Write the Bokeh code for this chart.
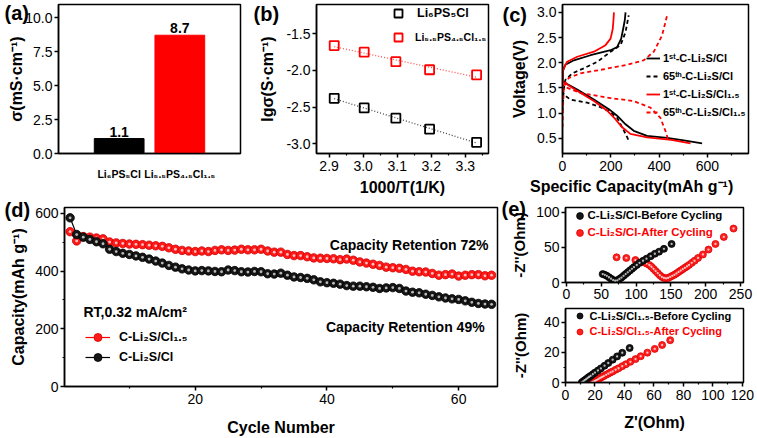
import numpy as np
from bokeh.plotting import figure
from bokeh.layouts import row, column
from bokeh.models import (Range1d, FixedTicker, Legend, LegendItem, PrintfTickFormatter,
                          LinearAxis)
from bokeh.core.properties import value
from bokeh.embed import file_html
from bokeh.resources import INLINE

FONT = "Liberation Sans"
RED = "#ff0000"
BLACK = "#000000"

# ---------------- data ----------------
# (a) conductivity bars
cond_names = ["Li₆PS₅Cl", "Li₅.₅PS₄.₅Cl₁.₅"]
cond_values = [1.1, 8.7]
cond_colors = [BLACK, RED]
a_yticks = [0, 2.5, 5, 7.5, 10]

# (b) Arrhenius
inv_temp = [2.915, 3.003, 3.096, 3.195, 3.333]
lg_cl = [-2.38, -2.51, -2.65, -2.80, -2.98]
lg_cl15 = [-1.66, -1.75, -1.88, -1.99, -2.06]
b_xticks = [2.9, 3.0, 3.1, 3.2, 3.3]
b_xminor = [2.85, 2.95, 3.05, 3.15, 3.25, 3.35]
b_yticks = [-3.0, -2.5, -2.0, -1.5]

# (c) charge / discharge profiles
s1_chg_cap = [0, 3, 12, 47, 116, 199, 226, 243, 251, 258, 261]
s1_chg_v = [1.62, 1.86, 1.96, 2.05, 2.15, 2.25, 2.31, 2.48, 2.67, 2.85, 3.0]
s1_dis_cap = [0, 61, 130, 192, 226, 261, 295, 350, 433, 502, 578]
s1_dis_v = [1.63, 1.47, 1.27, 1.08, 0.95, 0.78, 0.65, 0.55, 0.51, 0.46, 0.40]

s2_chg_cap = [0, 3, 8, 19, 61, 130, 178, 199, 208, 211, 213]
s2_chg_v = [1.62, 1.86, 1.92, 2.02, 2.12, 2.22, 2.35, 2.48, 2.67, 2.85, 3.0]
s2_dis_cap = [0, 55, 130, 185, 219, 247, 281, 350, 450, 530]
s2_dis_v = [1.63, 1.46, 1.24, 1.05, 0.88, 0.72, 0.59, 0.52, 0.47, 0.40]

s3_chg_cap = [0, 3, 8, 12, 40, 88, 144, 199, 240, 261, 274]
s3_chg_v = [1.05, 1.35, 1.58, 1.66, 1.79, 1.89, 2.02, 2.22, 2.35, 2.61, 2.94]
s3_dis_cap = [0, 5, 33, 102, 157, 192, 226, 247, 261, 274]
s3_dis_v = [1.45, 1.37, 1.27, 1.21, 1.12, 1.04, 0.91, 0.72, 0.59, 0.46]

s4_chg_cap = [0, 2, 5, 12, 26, 74, 157, 268, 336, 378, 412, 433]
s4_chg_v = [0.72, 1.10, 1.45, 1.60, 1.70, 1.79, 1.86, 1.96, 2.05, 2.22, 2.54, 2.94]
s4_dis_cap = [0, 5, 74, 199, 295, 364, 405, 426, 440]
s4_dis_v = [1.60, 1.53, 1.40, 1.30, 1.24, 1.11, 0.91, 0.65, 0.44]

c_legend = ["1ˢᵗ-C-Li₂S/Cl", "65ᵗʰ-C-Li₂S/Cl", "1ˢᵗ-C-Li₂S/Cl₁.₅", "65ᵗʰ-C-Li₂S/Cl₁.₅"]
c_xticks = [0, 200, 400, 600]
c_xminor = [100, 300, 500, 700]
c_yticks = [0.5, 1.0, 1.5, 2.0, 2.5, 3.0]

# (d) cycling
cycles = list(range(1, 66))
cap_cl15 = [537, 505, 520, 518, 515, 512, 501, 498, 496, 494, 493, 492, 490, 488, 486,
            481, 476, 472, 470, 468, 470, 468, 472, 474, 472, 473, 476, 474, 474, 476,
            470, 466, 466, 458, 454, 454, 450, 446, 445, 444, 443, 440, 442, 438, 432,
            428, 424, 420, 414, 412, 410, 406, 400, 398, 397, 392, 386, 388, 390, 383,
            386, 388, 388, 384, 386]
cap_cl = [585, 527, 518, 510, 502, 495, 476, 468, 462, 458, 453, 448, 442, 435, 428,
          420, 414, 408, 404, 401, 402, 401, 399, 398, 404, 402, 398, 397, 399, 398,
          391, 390, 393, 386, 380, 378, 375, 370, 363, 360, 358, 355, 350, 348, 348,
          346, 344, 340, 342, 343, 340, 331, 327, 325, 320, 316, 311, 307, 304, 302,
          297, 292, 288, 286, 285]
d_xticks = [0, 20, 40, 60]
d_xminor = [10, 30, 50]
d_yticks = [0, 200, 400, 600]
d_yminor = [100, 300, 500]

# (e) impedance
e1_before_x = [52, 55, 58, 61, 64, 67, 70, 73, 76, 79, 82, 85, 88, 91, 94, 97, 101, 105,
               110, 115, 121, 127, 133, 140, 151]
e1_before_y = [12, 11, 9.5, 7.5, 5.5, 3.5, 2.5, 3, 5, 7, 9.5, 12, 14.5, 17, 19.5, 22, 25,
               28, 31, 34, 37.5, 41, 44, 48, 55]
e1_after_x = [72, 86, 99, 108, 115, 119, 122, 125, 128, 131, 134, 137, 140, 143, 146, 149,
              152, 155, 158, 161, 164, 167, 170, 173, 176, 180, 184, 189, 196, 204, 214, 226, 240]
e1_after_y = [36, 35, 32, 29, 27, 25, 22.5, 19.5, 16.5, 13.5, 10.5, 8, 6.5, 6, 6.5, 8, 9.5,
              11, 13, 15, 17, 19, 21, 23, 25, 28, 31, 35, 40, 47, 55, 65, 77]
e2_before_x = [11, 12, 13, 14, 15, 16, 17, 18.5, 20, 22, 24, 26.5, 29, 32, 35, 38.5, 43.5]
e2_before_y = [0, 0.8, 1.5, 2.2, 3.0, 3.7, 4.4, 5.5, 6.6, 8.0, 9.4, 11.2, 13.0, 15.2, 17.4, 19.8, 23]
e2_after_x = [18, 19, 20, 21, 22, 23, 24, 25, 26, 27.5, 29, 30.5, 32, 34, 36, 38.5, 41, 44,
              47.5, 51, 55.5, 60.5, 65.5, 71]
e2_after_y = [0, 0.5, 1.0, 1.6, 2.1, 2.7, 3.3, 3.8, 4.3, 5.1, 5.9, 6.7, 7.4, 8.5, 9.5, 10.9,
              12.2, 13.8, 15.6, 17.5, 19.9, 22.4, 25.0, 28.2]
e1_xticks = [0, 50, 100, 150, 200, 250]
e1_xminor = [25, 75, 125, 175, 225]
e1_yticks = [0, 50, 100]
e2_xticks = [0, 20, 40, 60, 80, 100, 120]
e2_xminor = [10, 30, 50, 70, 90, 110]
e2_yticks = [0, 20, 40]
e2_yminor = [10, 30]


# ---------------- helpers ----------------
class Geo:
    def __init__(self, ox, oy, bl, fw, br, bt, fh, bb, xr, yr):
        self.bl, self.fw, self.br, self.bt, self.fh, self.bb = bl, fw, br, bt, fh, bb
        self.xr, self.yr = xr, yr
        self.fl = ox + bl
        self.ft = oy + bt

    def x(self, px):
        return self.xr[0] + (px - self.fl) / self.fw * (self.xr[1] - self.xr[0])

    def y(self, py):
        return self.yr[1] - (py - self.ft) / self.fh * (self.yr[1] - self.yr[0])


def make_fig(g):
    p = figure(width=g.bl + g.fw + g.br, height=g.bt + g.fh + g.bb,
               x_range=Range1d(*g.xr), y_range=Range1d(*g.yr),
               output_backend="svg", toolbar_location=None,
               min_border_left=g.bl, min_border_right=g.br,
               min_border_top=g.bt, min_border_bottom=g.bb)
    p.xgrid.visible = False
    p.ygrid.visible = False
    p.outline_line_color = "black"
    p.outline_line_width = 1.5
    p.outline_line_alpha = 1.0
    p.background_fill_color = "white"
    p.border_fill_color = "white"
    for ax in p.axis:
        ax.axis_line_color = "black"
        ax.axis_line_width = 1.5
        ax.major_tick_line_color = "black"
        ax.major_tick_line_width = 1.5
        ax.minor_tick_line_color = "black"
        ax.minor_tick_line_width = 1.2
        ax.major_tick_in = 0
        ax.major_tick_out = 4
        ax.minor_tick_in = 0
        ax.minor_tick_out = 2
        ax.major_label_text_font = FONT
        ax.major_label_text_font_size = "14px"
        ax.major_label_text_color = "black"
        ax.axis_label_text_font = FONT
        ax.axis_label_text_font_size = "16px"
        ax.axis_label_text_font_style = "bold"
        ax.axis_label_text_color = "black"
    p.xaxis.major_label_standoff = 3
    p.yaxis.major_label_standoff = 2
    return p


def free_text(p, g, px, py, text, size, align="left", color="black"):
    # drawn at overlay level so that it may sit outside the plot frame
    p.text(x=[g.x(px)], y=[g.y(py)], text=[text], text_font=value(FONT),
           text_font_size=f"{size}px", text_font_style="bold", text_color=color,
           text_align=align, text_baseline="middle", level="overlay")


def add_legend(p, g, items, left_px, top_px, H, spacing, gw, standoff, size, color="black"):
    n = len(items)
    h = n * H + (n - 1) * spacing
    vx = left_px - g.fl
    vy = (g.ft + g.fh) - (top_px + h)
    leg = Legend(items=[LegendItem(label=t, renderers=r) for t, r in items],
                 location=(vx, vy), orientation="vertical",
                 border_line_alpha=0, background_fill_alpha=0,
                 padding=0, margin=0, spacing=spacing,
                 glyph_width=gw, glyph_height=H, label_height=H,
                 label_standoff=standoff, label_text_font=FONT,
                 label_text_font_size=f"{size}px", label_text_font_style="bold",
                 label_text_color=color)
    p.add_layout(leg)


def ball(p, xs, ys, fill, edge, hi, size):
    r = p.scatter(xs, ys, marker="circle", size=size, fill_color=fill, line_color=edge,
                  line_width=0.8)
    p.scatter(xs, ys, marker="circle", size=size * 0.33, fill_color=hi, fill_alpha=0.85,
              line_alpha=0)
    return r


TOP_H = 198

# ---------------- (a) ----------------
gA = Geo(0, 0, 58, 182, 10, 4, 149, TOP_H - 153, (0, 3), (0, 10.96))
pA = make_fig(gA)
bar_x = [i + 1 for i in range(len(cond_names))]
pA.vbar(x=bar_x, top=cond_values, bottom=0, width=0.82, fill_color=cond_colors,
        line_color=cond_colors)
pA.text(x=bar_x, y=cond_values, text=[f"{v:.1f}" for v in cond_values],
        text_font=value(FONT), text_font_size="14px", text_font_style="bold",
        text_align="center", text_baseline="bottom", y_offset=-2, text_color="black")
pA.xaxis.ticker = FixedTicker(ticks=bar_x)
pA.xaxis.major_label_overrides = {x: n for x, n in zip(bar_x, cond_names)}
pA.xaxis.major_tick_out = 0
pA.xaxis.major_label_standoff = 14
pA.xaxis.major_label_text_font_size = "10.5px"
pA.xaxis.major_label_text_font_style = "bold"
pA.yaxis.ticker = FixedTicker(ticks=a_yticks)
pA.yaxis.formatter = PrintfTickFormatter(format="%.1f")
pA.yaxis.axis_label = "σ(mS·cm⁻¹)"
pA.yaxis.axis_label_standoff = -3
free_text(pA, gA, 4, 12, "(a)", 20)

# ---------------- (b) ----------------
gB = Geo(250, 0, 66, 172, 12, 4, 149, TOP_H - 153, (2.863, 3.368), (-3.132, -1.1))
pB = make_fig(gB)
for ys, fitcol in [(lg_cl, "#444444"), (lg_cl15, "#ff4d4d")]:
    k, b0 = np.polyfit(inv_temp, ys, 1)
    xf = [inv_temp[0], inv_temp[-1]]
    pB.line(xf, [k * v + b0 for v in xf], line_color=fitcol, line_width=1.3, line_dash="1 2")
sq_cl = pB.scatter(inv_temp, lg_cl, marker="square", size=9, fill_color=None,
                   line_color=BLACK, line_width=1.8)
sq_cl15 = pB.scatter(inv_temp, lg_cl15, marker="square", size=9, fill_color=None,
                     line_color=RED, line_width=1.8)
pB.xaxis.ticker = FixedTicker(ticks=b_xticks, minor_ticks=b_xminor)
pB.xaxis.formatter = PrintfTickFormatter(format="%.1f")
pB.yaxis.ticker = FixedTicker(ticks=b_yticks)
pB.yaxis.formatter = PrintfTickFormatter(format="%.1f")
pB.yaxis.axis_label = "lgσ(S·cm⁻¹)"
pB.yaxis.axis_label_standoff = 7
pB.xaxis.axis_label = "1000/T(1/K)"
pB.xaxis.axis_label_standoff = 5
add_legend(pB, gB, [(cond_names[0], [sq_cl])], 388, 3, 20, 0, 20, 9, 12.5)
add_legend(pB, gB, [(cond_names[1], [sq_cl15])], 388, 27, 20, 0, 20, 7, 10.5)
free_text(pB, gB, 253, 13, "(b)", 20)

# ---------------- (c) ----------------
gC = Geo(500, 0, 62, 186, 9, 2, 151, TOP_H - 153, (0, 770), (0.2, 3.157))
pC = make_fig(gC)
c_series = [
    (s1_chg_cap, s1_chg_v, s1_dis_cap, s1_dis_v, BLACK, "solid"),
    (s3_chg_cap, s3_chg_v, s3_dis_cap, s3_dis_v, BLACK, "4 3"),
    (s2_chg_cap, s2_chg_v, s2_dis_cap, s2_dis_v, RED, "solid"),
    (s4_chg_cap, s4_chg_v, s4_dis_cap, s4_dis_v, RED, "4 3"),
]
c_rend = []
for cc, cv, dc, dv, col, dash in c_series:
    r = pC.line(cc, cv, line_color=col, line_width=1.8, line_dash=dash)
    pC.line(dc, dv, line_color=col, line_width=1.8, line_dash=dash)
    c_rend.append(r)
pC.xaxis.ticker = FixedTicker(ticks=c_xticks, minor_ticks=c_xminor)
pC.yaxis.ticker = FixedTicker(ticks=c_yticks)
pC.yaxis.formatter = PrintfTickFormatter(format="%.1f")
pC.yaxis.axis_label = "Voltage(V)"
pC.yaxis.axis_label_standoff = 6
xt = int(round(gC.x(631)))
c_title_axis = LinearAxis(ticker=FixedTicker(ticks=[xt]),
                          major_label_overrides={xt: "Specific Capacity(mAh g⁻¹)"},
                          axis_line_color=None, major_tick_line_color=None,
                          minor_tick_line_color=None, major_tick_out=0, major_tick_in=0,
                          major_label_standoff=4, major_label_text_font=FONT,
                          major_label_text_font_size="16px",
                          major_label_text_font_style="bold", major_label_text_color="black")
pC.add_layout(c_title_axis, "below")
add_legend(pC, gC, [(c_legend[i], [c_rend[i]]) for i in range(4)],
           646, 50, 16, 2, 14, 3, 11)
free_text(pC, gC, 502, 13, "(c)", 20)

# ---------------- (d) ----------------
gD = Geo(0, TOP_H, 64, 433, 3, 207 - TOP_H, 179, 438 - 386, (0.15, 65.9), (0, 620.8))
pD = make_fig(gD)
lr = pD.line(cycles, cap_cl15, line_color=RED, line_width=1.2)
mr = ball(pD, cycles, cap_cl15, "#ff1a1a", "#d40000", "#ffe0e0", 8.5)
lb = pD.line(cycles, cap_cl, line_color=BLACK, line_width=1.2)
mb = ball(pD, cycles, cap_cl, "#161616", "#000000", "#d8d8d8", 8.5)
pD.xaxis.ticker = FixedTicker(ticks=d_xticks, minor_ticks=d_xminor)
pD.yaxis.ticker = FixedTicker(ticks=d_yticks, minor_ticks=d_yminor)
pD.yaxis.axis_label = "Capacity(mAh g⁻¹)"
pD.yaxis.axis_label_standoff = 5
pD.xaxis.axis_label = "Cycle Number"
pD.xaxis.axis_label_standoff = 12
add_legend(pD, gD, [("C-Li₂S/Cl₁.₅", [lr, mr]), ("C-Li₂S/Cl", [lb, mb])],
           85, 327, 20, 0, 25, 9, 12.5)
free_text(pD, gD, 4, 209, "(d)", 20)
free_text(pD, gD, 488, 244, "Capacity Retention 72%", 14, align="right")
free_text(pD, gD, 488, 326, "Capacity Retention  49%", 14, align="right")
free_text(pD, gD, 83, 311, "RT,0.32 mA/cm²", 14)

# ---------------- (e) top ----------------
E1_H = 306 - TOP_H
gE1 = Geo(500, TOP_H, 65, 178, 14, 207 - TOP_H, 75, E1_H - (207 - TOP_H) - 75,
          (-1.4, 254.3), (0, 107))
pE1 = make_fig(gE1)
ea = ball(pE1, e1_after_x, e1_after_y, "#ff2020", "#e00000", "#ffe0e0", 7)
eb = ball(pE1, e1_before_x, e1_before_y, "#161616", "#000000", "#d8d8d8", 7)
pE1.xaxis.ticker = FixedTicker(ticks=e1_xticks, minor_ticks=e1_xminor)
pE1.xaxis.major_label_standoff = 2
pE1.yaxis.ticker = FixedTicker(ticks=e1_yticks)
pE1.yaxis.axis_label = "-Z''(Ohm)"
pE1.yaxis.axis_label_standoff = 5
pE1.yaxis.axis_label_text_font_size = "15px"
add_legend(pE1, gE1, [("C-Li₂S/Cl-Before Cycling", [eb])], 570.5, 206.5, 17, 0, 17, 0, 11.5)
add_legend(pE1, gE1, [("C-Li₂S/Cl-After Cycling", [ea])], 570.5, 223.5, 17, 0, 17, 0, 11.5,
           color=RED)
free_text(pE1, gE1, 501, 208, "(e)", 20)

# ---------------- (e) bottom ----------------
gE2 = Geo(500, 306, 65, 178, 14, 2, 74, 438 - 382, (0, 120.7), (0, 49.3))
pE2 = make_fig(gE2)
fa = ball(pE2, e2_after_x, e2_after_y, "#ff2020", "#e00000", "#ffe0e0", 7)
fb = ball(pE2, e2_before_x, e2_before_y, "#161616", "#000000", "#d8d8d8", 7)
pE2.xaxis.ticker = FixedTicker(ticks=e2_xticks, minor_ticks=e2_xminor)
pE2.yaxis.ticker = FixedTicker(ticks=e2_yticks, minor_ticks=e2_yminor)
pE2.yaxis.axis_label = "-Z''(Ohm)"
pE2.yaxis.axis_label_standoff = 12
pE2.yaxis.axis_label_text_font_size = "15px"
pE2.xaxis.axis_label = "Z'(Ohm)"
pE2.xaxis.axis_label_standoff = 11
add_legend(pE2, gE2, [("C-Li₂S/Cl₁.₅-Before Cycling", [fb])], 571.5, 308.2, 15, 0, 15, 3, 11)
add_legend(pE2, gE2, [("C-Li₂S/Cl₁.₅-After Cycling", [fa])], 571.5, 323.5, 15, 0, 15, 3, 11,
           color=RED)

layout = column(row(pA, pB, pC), row(pD, column(pE1, pE2)))
open("out.html", "w").write(file_html(layout, INLINE, title="figure"))
